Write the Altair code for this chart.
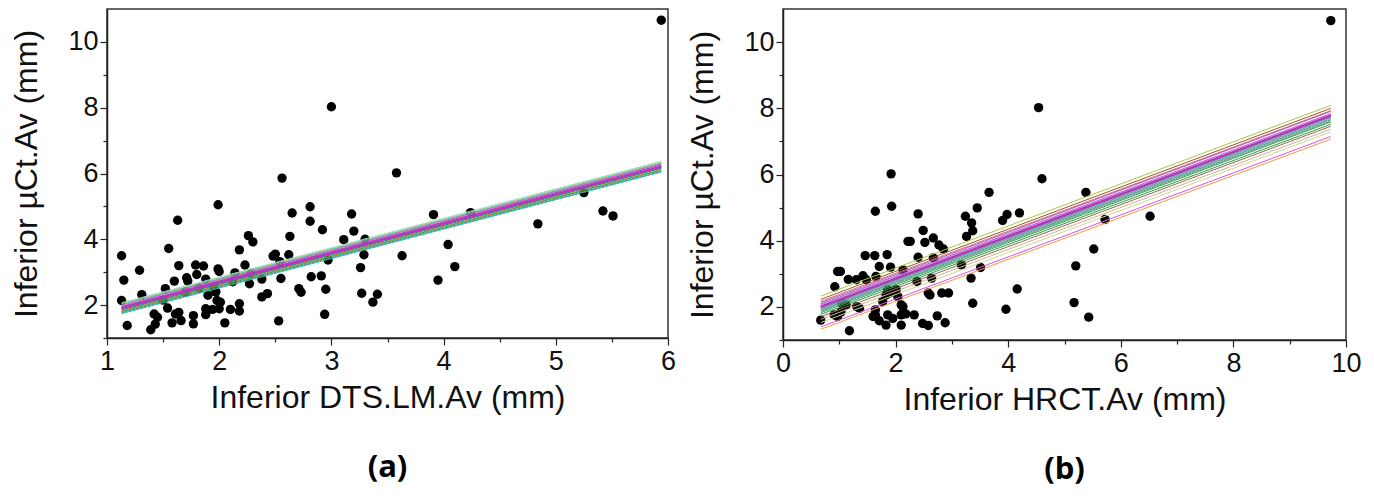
import altair as alt
import pandas as pd

# ---------------- Panel (a): Inferior DTS.LM.Av vs Inferior µCt.Av ----------------
A_x = [1.13, 1.15, 1.13, 1.18, 1.29, 1.31, 1.39, 1.42, 1.45, 1.43, 1.52, 1.54, 1.55, 1.58,
       1.60, 1.61, 1.64, 1.64, 1.63, 1.66, 1.71, 1.72, 1.77, 1.77, 1.79, 1.86, 1.80, 1.82,
       1.88, 1.88, 1.88, 1.94, 1.95, 1.97, 1.98, 2.00, 2.01, 1.99, 2.00, 1.99, 2.05, 2.10,
       2.12, 2.14, 2.18, 2.18, 2.18, 2.23, 2.26, 2.30, 2.28, 2.27, 2.38, 2.38, 2.43, 2.48,
       2.50, 2.53, 2.55, 2.54, 2.56, 2.62, 2.63, 2.65, 2.71, 2.73, 2.81, 2.81, 2.82, 2.91,
       2.92, 2.95, 2.94, 2.97, 3.00, 3.11, 3.18, 3.20, 3.30, 3.29, 3.26, 3.27, 3.41, 3.37,
       3.58, 3.63, 3.91, 3.95, 4.04, 4.10, 4.24, 4.84, 5.25, 5.42, 5.51, 5.94,
       1.50, 1.70, 1.90]
A_y = [3.50, 2.76, 2.14, 1.38, 3.06, 2.32, 1.25, 1.73, 1.63, 1.42, 2.50, 1.91, 3.72, 1.46,
       2.73, 1.73, 1.78, 3.20, 4.58, 1.53, 2.83, 2.73, 1.68, 1.43, 3.22, 3.19, 2.93, 2.52,
       2.79, 1.89, 1.71, 1.87, 2.55, 2.40, 2.14, 1.89, 2.09, 3.10, 3.02, 5.05, 1.46, 1.87,
       2.71, 2.98, 2.04, 1.82, 3.68, 3.22, 4.11, 3.92, 2.96, 2.65, 2.79, 2.25, 2.35, 3.49,
       3.55, 1.52, 2.81, 3.32, 5.86, 3.53, 4.09, 4.80, 2.50, 2.39, 4.99, 4.55, 2.86, 2.89,
       4.29, 2.48, 1.72, 3.37, 8.03, 3.99, 4.77, 4.25, 4.00, 3.53, 3.14, 2.36, 2.33, 2.09,
       6.02, 3.50, 4.75, 2.76, 3.84, 3.17, 4.81, 4.47, 5.42, 4.86, 4.71, 10.66,
       2.15, 2.40, 2.30]

# bundle of fitted lines (intercept, slope, colour)
A_fit_intercept = [1.060, 1.035, 1.010, 0.985, 0.960, 0.940, 0.920, 0.900, 0.880, 0.860,
                   0.840, 0.815, 0.790, 0.760, 0.730]
A_fit_slope = [0.894, 0.895, 0.893, 0.894, 0.893, 0.895, 0.892, 0.894, 0.894, 0.893,
               0.895, 0.893, 0.894, 0.893, 0.895]
A_fit_color = ["#8fd8f0", "#a8d86a", "#3fb8a8", "#d060d0", "#e070c0", "#9050b0", "#4060c0",
               "#907060", "#a0a030", "#30c070", "#109080", "#d08030", "#30a050", "#608090",
               "#20c0a0"]
A_main = [0.895, 0.894]

# ---------------- Panel (b): Inferior HRCT.Av vs Inferior µCt.Av ----------------
B_x = [0.67, 0.91, 0.97, 0.92, 0.97, 1.02, 1.16, 1.05, 1.12, 1.18, 1.03, 1.30, 1.42, 1.48,
       1.31, 1.36, 1.46, 1.63, 1.64, 1.65, 1.71, 1.85, 1.91, 1.92, 1.93, 1.60, 1.71, 1.83,
       1.64, 1.64, 1.77, 1.83, 1.89, 1.86, 2.01, 2.04, 1.86, 1.95, 2.10, 2.13, 2.13, 2.10,
       2.18, 2.10, 2.13, 2.22, 2.26, 2.33, 2.38, 2.40, 2.40, 2.48, 2.58, 2.49, 2.52, 2.58,
       2.61, 2.64, 2.67, 2.67, 2.74, 2.77, 2.85, 2.82, 2.88, 2.94, 3.17, 3.24, 3.26, 3.35,
       3.37, 3.34, 3.37, 3.45, 3.51, 3.66, 3.90, 3.96, 3.98, 4.16, 4.20, 4.54, 4.60, 5.17,
       5.20, 5.38, 5.43, 5.52, 5.72, 6.52, 9.73]
B_y = [1.60, 1.76, 1.71, 2.61, 3.07, 3.07, 2.83, 2.11, 2.06, 1.28, 1.85, 2.82, 2.94, 2.82,
       2.01, 1.96, 3.55, 3.55, 4.89, 2.92, 3.22, 3.58, 3.20, 6.02, 5.04, 1.71, 1.58, 1.45,
       1.91, 1.76, 2.16, 2.36, 2.42, 2.52, 2.52, 2.31, 1.76, 1.65, 2.06, 2.01, 1.81, 1.76,
       1.79, 1.45, 3.12, 3.98, 3.98, 1.76, 2.77, 4.81, 3.50, 1.50, 1.44, 4.31, 3.95, 2.42,
       2.36, 2.87, 4.08, 3.48, 1.73, 3.87, 3.75, 2.42, 1.52, 2.42, 3.27, 4.74, 4.13, 4.54,
       4.30, 2.87, 2.11, 4.99, 3.19, 5.46, 4.61, 1.93, 4.79, 2.54, 4.84, 8.02, 5.87, 2.13,
       3.24, 5.46, 1.69, 3.75, 4.64, 4.74, 10.65]

B_fit_intercept = [1.90, 1.80, 1.74, 1.70, 1.66, 1.63, 1.60, 1.58, 1.55, 1.52, 1.50, 1.47,
                   1.44, 1.40, 1.35, 1.28, 1.20, 1.10, 0.97, 0.90]
B_fit_slope = [0.636, 0.637, 0.636, 0.638, 0.635, 0.637, 0.636, 0.638, 0.636, 0.635, 0.637,
               0.636, 0.635, 0.636, 0.634, 0.635, 0.634, 0.636, 0.635, 0.634]
B_fit_color = ["#a8c840", "#a05030", "#c08060", "#d040d0", "#8060c0", "#e080e0", "#20a0a0",
               "#6080c0", "#30a090", "#508080", "#80b0b0", "#4090a0", "#70a070", "#30a050",
               "#20a040", "#a06050", "#c0b890", "#d8d090", "#e050e0", "#e8a040"]
B_main = [1.58, 0.637]

FONT = "Liberation Sans"
Y_TICKS = [2, 4, 6, 8, 10]
Y_MINOR_TICKS = [1, 3, 5, 7, 9]


def fit_frame(xs, intercepts, slopes, colors):
    x0, x1 = min(xs), max(xs)
    rows = []
    for i, (a, b, c) in enumerate(zip(intercepts, slopes, colors)):
        for xv in (x0, x1):
            rows.append({"fit": i, "x": xv, "y": a + b * xv, "c": c})
    return pd.DataFrame(rows)


def panel(xs, ys, intercepts, slopes, colors, main, xdom, xvals, xmajor, xtitle, label, w, h):
    pts = pd.DataFrame({"x": xs, "y": ys})
    fits = fit_frame(xs, intercepts, slopes, colors)
    mainf = fit_frame(xs, [main[0]], [main[1]], ["#c030c0"])

    xsc = alt.Scale(domain=xdom, nice=False, zero=False)
    ysc = alt.Scale(domain=[1, 11], nice=False, zero=False)
    xaxis = alt.Axis(
        title=xtitle, values=xvals,
        labelExpr=f"({xmajor}) ? format(datum.value, 'd') : ''",
        tickSize={"condition": {"test": xmajor, "value": 7}, "value": 4},
        labelFlush=False, labelOverlap=False, grid=False,
        labelPadding=3, titlePadding=8,
        labelFontSize=27, titleFontSize=32, titleFontWeight="normal",
        labelFont=FONT, titleFont=FONT, labelColor="#111111", titleColor="#111111",
    )
    yaxis = alt.Axis(
        title="Inferior µCt.Av (mm)", values=Y_TICKS, format="d",
        tickSize=7,
        labelFlush=False, labelOverlap=False, grid=False,
        labelPadding=2, titlePadding=24,
        labelFontSize=27, titleFontSize=32, titleFontWeight="normal",
        labelFont=FONT, titleFont=FONT, labelColor="#111111", titleColor="#111111",
    )
    yminor = alt.Axis(
        title=None, values=Y_MINOR_TICKS, labels=False, domain=False, grid=False,
        tickSize=4, orient="left",
    )
    base_x = alt.X("x:Q", scale=xsc, axis=xaxis)

    p = alt.Chart(pts).mark_circle(color="black", opacity=1, size=88).encode(
        x=base_x, y=alt.Y("y:Q", scale=ysc, axis=yaxis))
    minor = alt.Chart(pts).mark_circle(opacity=0, size=1).encode(
        x=alt.X("x:Q"), y=alt.Y("y:Q", scale=ysc, axis=yminor))
    l = alt.Chart(fits).mark_line(strokeWidth=1, clip=True).encode(
        x=alt.X("x:Q"), y=alt.Y("y:Q", axis=None), detail="fit:N",
        color=alt.Color("c:N", scale=None))
    m = alt.Chart(mainf).mark_line(strokeWidth=2.2, clip=True).encode(
        x=alt.X("x:Q"), y=alt.Y("y:Q", axis=None), color=alt.Color("c:N", scale=None))
    return alt.layer(p, minor, l, m).resolve_axis(y="independent").properties(
        width=w, height=h,
        title=alt.TitleParams(label, orient="bottom", anchor="middle", frame="group",
                              fontSize=31, fontWeight="bold", font="Open Sans", offset=40),
    )


chart_a = panel(A_x, A_y, A_fit_intercept, A_fit_slope, A_fit_color, A_main,
                [1, 6], [1 + 0.5 * i for i in range(11)], "datum.value % 1 == 0",
                "Inferior DTS.LM.Av (mm)", "(a)", 561, 329)
chart_b = panel(B_x, B_y, B_fit_intercept, B_fit_slope, B_fit_color, B_main,
                [0, 10], list(range(0, 11)), "datum.value % 2 == 0",
                "Inferior HRCT.Av (mm)", "(b)", 563, 331)

chart = alt.hconcat(chart_a, chart_b, spacing=9).properties(
    padding={"left": 2, "top": 0, "right": 0, "bottom": 6}
).configure(
    background="white"
).configure_view(
    stroke="#333333", strokeWidth=1.5
).configure_axis(
    domainColor="#222222", domainWidth=1.5, tickColor="#222222", tickWidth=1.2,
)

chart.save("out.html", embed_options={"renderer": "svg", "actions": False})
